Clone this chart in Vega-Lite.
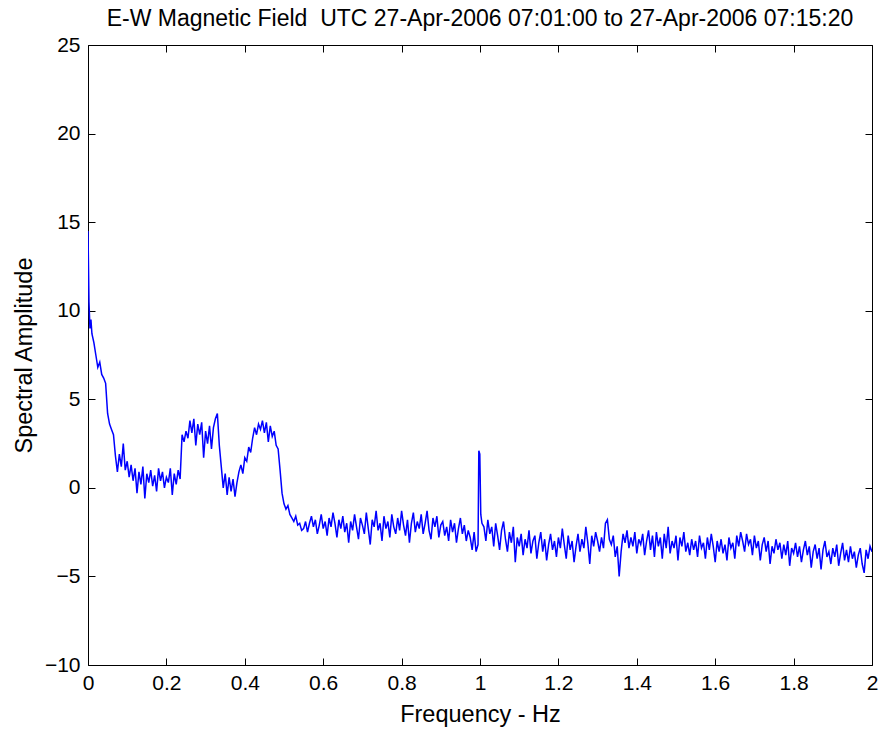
{
  "$schema": "https://vega.github.io/schema/vega-lite/v6.json",
  "autosize": "none",
  "width": 784,
  "height": 620,
  "padding": {"left": 88, "top": 45, "right": 8, "bottom": 69},
  "background": "white",
  "config": {
    "view": {"stroke": "black", "strokeWidth": 1},
    "font": "Liberation Sans",
    "axis": {"grid": false, "domain": false, "tickColor": "black", "labelColor": "black", "titleColor": "black", "labelFont": "Liberation Sans", "titleFont": "Liberation Sans", "labelFontSize": 21, "titleFontSize": 23.5, "titleFontWeight": "normal", "tickSize": -7, "labelPadding": 15}
  },
  "title": {"text": "E-W Magnetic Field\u00a0 UTC 27-Apr-2006 07:01:00 to 27-Apr-2006 07:15:20", "fontSize": 23, "fontWeight": "normal", "font": "Liberation Sans", "color": "black", "offset": 3, "anchor": "middle"},
  "data": {"values": [
{"f":0,"a":14.5},{"f":0.0025,"a":10.5},{"f":0.005,"a":9.0},{"f":0.0075,"a":9.5},{"f":0.01,"a":8.7},{"f":0.015,"a":8.2},{"f":0.02,"a":7.5},{"f":0.025,"a":6.8},{"f":0.03,"a":7.1},{"f":0.035,"a":6.4},{"f":0.04,"a":6.2},{"f":0.045,"a":5.9},{"f":0.05,"a":4.2},{"f":0.055,"a":3.6},{"f":0.06,"a":3.3},{"f":0.065,"a":3.0},{"f":0.07,"a":1.8},{"f":0.075,"a":0.9},{"f":0.08,"a":1.9},{"f":0.085,"a":1.2},{"f":0.09,"a":2.5},{"f":0.095,"a":1.0},{"f":0.1,"a":1.5},{"f":0.105,"a":0.6},{"f":0.11,"a":1.3},{"f":0.115,"a":0.4},{"f":0.12,"a":1.1},{"f":0.125,"a":-0.3},{"f":0.13,"a":0.9},{"f":0.135,"a":0.2},{"f":0.14,"a":1.2},{"f":0.145,"a":-0.6},{"f":0.15,"a":0.8},{"f":0.155,"a":0.3},{"f":0.16,"a":1.0},{"f":0.165,"a":0.1},{"f":0.17,"a":0.7},{"f":0.175,"a":-0.2},{"f":0.18,"a":1.1},{"f":0.185,"a":0.4},{"f":0.19,"a":0.9},{"f":0.195,"a":0.0},{"f":0.2,"a":0.6},{"f":0.205,"a":0.3},{"f":0.21,"a":1.1},{"f":0.215,"a":-0.4},{"f":0.22,"a":0.8},{"f":0.225,"a":0.2},{"f":0.23,"a":1.0},{"f":0.235,"a":0.5},{"f":0.24,"a":3.0},{"f":0.245,"a":2.6},{"f":0.25,"a":3.2},{"f":0.255,"a":2.8},{"f":0.26,"a":3.8},{"f":0.265,"a":3.1},{"f":0.27,"a":3.9},{"f":0.275,"a":2.4},{"f":0.28,"a":3.6},{"f":0.285,"a":3.0},{"f":0.29,"a":3.7},{"f":0.295,"a":1.7},{"f":0.3,"a":3.2},{"f":0.305,"a":2.5},{"f":0.31,"a":3.5},{"f":0.315,"a":2.2},{"f":0.32,"a":3.4},{"f":0.325,"a":3.9},{"f":0.33,"a":4.2},{"f":0.335,"a":2.4},{"f":0.34,"a":1.2},{"f":0.345,"a":0.0},{"f":0.35,"a":0.8},{"f":0.355,"a":-0.4},{"f":0.36,"a":0.6},{"f":0.365,"a":-0.2},{"f":0.37,"a":0.5},{"f":0.375,"a":-0.5},{"f":0.38,"a":0.3},{"f":0.385,"a":0.9},{"f":0.39,"a":1.3},{"f":0.395,"a":0.8},{"f":0.4,"a":1.7},{"f":0.405,"a":1.5},{"f":0.41,"a":2.3},{"f":0.415,"a":2.0},{"f":0.42,"a":2.8},{"f":0.425,"a":3.4},{"f":0.43,"a":3.0},{"f":0.435,"a":3.6},{"f":0.44,"a":3.3},{"f":0.445,"a":3.8},{"f":0.45,"a":3.1},{"f":0.455,"a":3.7},{"f":0.46,"a":2.6},{"f":0.465,"a":3.5},{"f":0.47,"a":2.9},{"f":0.475,"a":3.2},{"f":0.48,"a":2.4},{"f":0.485,"a":2.2},{"f":0.49,"a":1.0},{"f":0.495,"a":-0.3},{"f":0.5,"a":-0.9},{"f":0.505,"a":-1.2},{"f":0.51,"a":-1.0},{"f":0.515,"a":-1.5},{"f":0.52,"a":-1.7},{"f":0.525,"a":-1.9},{"f":0.53,"a":-1.6},{"f":0.535,"a":-2.1},{"f":0.54,"a":-2.0},{"f":0.545,"a":-2.4},{"f":0.55,"a":-2.3},{"f":0.555,"a":-1.9},{"f":0.56,"a":-2.5},{"f":0.565,"a":-2.0},{"f":0.57,"a":-1.6},{"f":0.575,"a":-2.2},{"f":0.58,"a":-1.8},{"f":0.585,"a":-2.6},
{"f":0.59,"a":-2.1},{"f":0.595,"a":-1.5},{"f":0.6,"a":-2.3},{"f":0.605,"a":-1.9},{"f":0.61,"a":-2.7},{"f":0.615,"a":-1.7},{"f":0.62,"a":-2.2},{"f":0.625,"a":-1.4},{"f":0.63,"a":-2.0},{"f":0.635,"a":-2.8},{"f":0.64,"a":-1.8},{"f":0.645,"a":-2.3},{"f":0.65,"a":-1.6},{"f":0.655,"a":-2.5},{"f":0.66,"a":-2.0},{"f":0.665,"a":-3.1},{"f":0.67,"a":-1.9},{"f":0.675,"a":-2.4},{"f":0.68,"a":-1.5},{"f":0.685,"a":-2.2},{"f":0.69,"a":-2.9},{"f":0.695,"a":-1.7},{"f":0.7,"a":-2.1},{"f":0.705,"a":-2.6},{"f":0.71,"a":-1.4},{"f":0.715,"a":-2.3},{"f":0.72,"a":-3.2},{"f":0.725,"a":-1.8},{"f":0.73,"a":-2.2},{"f":0.735,"a":-1.3},{"f":0.74,"a":-2.4},{"f":0.745,"a":-2.0},{"f":0.75,"a":-3.0},{"f":0.755,"a":-1.6},{"f":0.76,"a":-2.3},{"f":0.765,"a":-1.9},{"f":0.77,"a":-2.8},{"f":0.775,"a":-1.5},{"f":0.78,"a":-2.2},{"f":0.785,"a":-2.6},{"f":0.79,"a":-1.7},{"f":0.795,"a":-2.4},{"f":0.8,"a":-1.3},{"f":0.805,"a":-2.1},{"f":0.81,"a":-2.7},{"f":0.815,"a":-1.8},{"f":0.82,"a":-3.1},{"f":0.825,"a":-2.0},{"f":0.83,"a":-1.4},{"f":0.835,"a":-2.5},{"f":0.84,"a":-1.9},{"f":0.845,"a":-2.3},{"f":0.85,"a":-1.5},{"f":0.855,"a":-2.6},{"f":0.86,"a":-2.0},{"f":0.865,"a":-1.3},{"f":0.87,"a":-2.4},{"f":0.875,"a":-2.9},{"f":0.88,"a":-1.7},{"f":0.885,"a":-2.2},{"f":0.89,"a":-1.6},{"f":0.895,"a":-2.8},{"f":0.9,"a":-2.1},{"f":0.905,"a":-1.9},{"f":0.91,"a":-2.7},{"f":0.915,"a":-2.2},{"f":0.92,"a":-3.0},{"f":0.925,"a":-1.8},{"f":0.93,"a":-2.5},{"f":0.935,"a":-2.0},{"f":0.94,"a":-3.1},{"f":0.945,"a":-2.3},{"f":0.95,"a":-1.7},{"f":0.955,"a":-2.6},{"f":0.96,"a":-2.1},{"f":0.965,"a":-3.0},{"f":0.97,"a":-2.4},{"f":0.975,"a":-2.8},{"f":0.98,"a":-3.5},{"f":0.985,"a":-2.5},{"f":0.99,"a":-3.6},{"f":0.995,"a":-3.2},{"f":0.997,"a":2.1},{"f":0.9995,"a":1.9},{"f":1.002,"a":-1.5},{"f":1.005,"a":-2.0},
{"f":1.01,"a":-2.2},{"f":1.015,"a":-3.0},{"f":1.02,"a":-1.8},{"f":1.025,"a":-2.6},{"f":1.03,"a":-2.2},{"f":1.035,"a":-3.3},{"f":1.04,"a":-2.0},{"f":1.045,"a":-2.7},{"f":1.05,"a":-3.5},{"f":1.055,"a":-2.4},{"f":1.06,"a":-1.9},{"f":1.065,"a":-2.9},{"f":1.07,"a":-3.6},{"f":1.075,"a":-2.5},{"f":1.08,"a":-3.1},{"f":1.085,"a":-2.2},{"f":1.09,"a":-4.2},{"f":1.095,"a":-2.8},{"f":1.1,"a":-3.3},{"f":1.105,"a":-2.6},{"f":1.11,"a":-3.8},{"f":1.115,"a":-2.9},{"f":1.12,"a":-3.4},{"f":1.125,"a":-2.4},{"f":1.13,"a":-3.7},{"f":1.135,"a":-3.0},{"f":1.14,"a":-2.7},{"f":1.145,"a":-4.0},{"f":1.15,"a":-3.1},{"f":1.155,"a":-2.5},{"f":1.16,"a":-3.6},{"f":1.165,"a":-2.9},{"f":1.17,"a":-4.1},{"f":1.175,"a":-3.2},{"f":1.18,"a":-2.6},{"f":1.185,"a":-3.5},{"f":1.19,"a":-3.0},{"f":1.195,"a":-3.9},{"f":1.2,"a":-2.8},{"f":1.205,"a":-3.4},{"f":1.21,"a":-2.3},{"f":1.215,"a":-3.2},{"f":1.22,"a":-4.0},{"f":1.225,"a":-2.7},{"f":1.23,"a":-3.5},{"f":1.235,"a":-3.0},{"f":1.24,"a":-4.2},{"f":1.245,"a":-3.3},{"f":1.25,"a":-2.6},{"f":1.255,"a":-3.6},{"f":1.26,"a":-2.9},{"f":1.265,"a":-3.4},{"f":1.27,"a":-2.2},{"f":1.275,"a":-3.1},{"f":1.28,"a":-4.3},{"f":1.285,"a":-2.7},{"f":1.29,"a":-3.3},{"f":1.295,"a":-2.5},{"f":1.3,"a":-3.0},
{"f":1.305,"a":-3.6},{"f":1.31,"a":-2.8},{"f":1.315,"a":-3.4},{"f":1.32,"a":-2.0},{"f":1.325,"a":-1.8},{"f":1.33,"a":-2.9},{"f":1.335,"a":-3.2},{"f":1.34,"a":-2.7},{"f":1.345,"a":-3.9},{"f":1.35,"a":-3.3},{"f":1.355,"a":-5.0},{"f":1.36,"a":-3.6},{"f":1.365,"a":-2.6},{"f":1.37,"a":-3.1},{"f":1.375,"a":-2.4},{"f":1.38,"a":-3.4},{"f":1.385,"a":-2.8},{"f":1.39,"a":-3.3},{"f":1.395,"a":-2.5},{"f":1.4,"a":-3.7},{"f":1.405,"a":-2.9},{"f":1.41,"a":-3.2},{"f":1.415,"a":-2.6},{"f":1.42,"a":-3.8},{"f":1.425,"a":-3.0},{"f":1.43,"a":-2.4},{"f":1.435,"a":-3.5},{"f":1.44,"a":-2.7},{"f":1.445,"a":-3.9},{"f":1.45,"a":-2.5},{"f":1.455,"a":-3.3},{"f":1.46,"a":-2.8},{"f":1.465,"a":-4.0},{"f":1.47,"a":-2.6},{"f":1.475,"a":-3.4},{"f":1.48,"a":-2.2},{"f":1.485,"a":-3.7},{"f":1.49,"a":-3.0},{"f":1.495,"a":-3.4},{"f":1.5,"a":-2.7},{"f":1.505,"a":-4.1},{"f":1.51,"a":-2.8},{"f":1.515,"a":-3.3},{"f":1.52,"a":-2.5},{"f":1.525,"a":-3.6},{"f":1.53,"a":-3.1},{"f":1.535,"a":-3.8},{"f":1.54,"a":-2.9},{"f":1.545,"a":-3.5},{"f":1.55,"a":-3.0},{"f":1.555,"a":-3.9},{"f":1.56,"a":-2.7},{"f":1.565,"a":-3.4},{"f":1.57,"a":-3.1},{"f":1.575,"a":-4.0},{"f":1.58,"a":-2.8},{"f":1.585,"a":-3.5},{"f":1.59,"a":-2.6},{"f":1.595,"a":-3.3},{"f":1.6,"a":-4.2},{"f":1.605,"a":-3.0},{"f":1.61,"a":-3.6},{"f":1.615,"a":-2.9},{"f":1.62,"a":-3.7},{"f":1.625,"a":-3.2},{"f":1.63,"a":-4.1},{"f":1.635,"a":-2.8},{"f":1.64,"a":-3.4},{"f":1.645,"a":-3.1},{"f":1.65,"a":-4.0},{"f":1.655,"a":-2.7},{"f":1.66,"a":-3.3},{"f":1.665,"a":-2.5},{"f":1.67,"a":-3.0},{"f":1.675,"a":-3.6},{"f":1.68,"a":-2.6},{"f":1.685,"a":-3.2},{"f":1.69,"a":-2.9},{"f":1.695,"a":-3.8},{"f":1.7,"a":-2.7},{"f":1.705,"a":-3.4},{"f":1.71,"a":-3.0},{"f":1.715,"a":-4.1},{"f":1.72,"a":-3.2},{"f":1.725,"a":-2.8},{"f":1.73,"a":-3.6},{"f":1.735,"a":-3.0},{"f":1.74,"a":-4.3},{"f":1.745,"a":-3.3},{"f":1.75,"a":-3.7},{"f":1.755,"a":-2.9},{"f":1.76,"a":-3.5},{"f":1.765,"a":-3.1},{"f":1.77,"a":-4.0},{"f":1.775,"a":-3.2},{"f":1.78,"a":-3.8},{"f":1.785,"a":-3.0},{"f":1.79,"a":-4.4},{"f":1.795,"a":-3.4},{"f":1.8,"a":-3.7},{"f":1.805,"a":-3.1},{"f":1.81,"a":-3.9},{"f":1.815,"a":-3.3},{"f":1.82,"a":-4.2},{"f":1.825,"a":-3.5},{"f":1.83,"a":-3.0},{"f":1.835,"a":-3.8},{"f":1.84,"a":-3.3},{"f":1.845,"a":-4.5},{"f":1.85,"a":-3.6},{"f":1.855,"a":-3.2},{"f":1.86,"a":-4.0},{"f":1.865,"a":-3.4},{"f":1.87,"a":-4.6},{"f":1.875,"a":-3.5},{"f":1.88,"a":-3.0},{"f":1.885,"a":-3.9},{"f":1.89,"a":-3.6},{"f":1.895,"a":-4.3},{"f":1.9,"a":-3.4},{"f":1.905,"a":-3.9},{"f":1.91,"a":-3.2},{"f":1.915,"a":-4.4},{"f":1.92,"a":-3.7},{"f":1.925,"a":-3.1},{"f":1.93,"a":-4.1},{"f":1.935,"a":-3.5},{"f":1.94,"a":-4.2},{"f":1.945,"a":-3.3},{"f":1.95,"a":-4.0},{"f":1.955,"a":-3.6},{"f":1.96,"a":-4.5},{"f":1.965,"a":-3.8},{"f":1.97,"a":-3.4},{"f":1.975,"a":-4.3},{"f":1.98,"a":-4.8},{"f":1.985,"a":-3.5},{"f":1.99,"a":-4.0},{"f":1.995,"a":-3.3},{"f":2.0,"a":-3.6}
  ]},
  "layer": [
    {
      "mark": {"type": "line", "color": "#0000ff", "strokeWidth": 1.5, "clip": true},
      "encoding": {
        "x": {"field": "f", "type": "quantitative", "scale": {"domain": [0, 2], "nice": false, "zero": false}, "axis": {"title": "Frequency - Hz", "format": "~g", "values": [0, 0.2, 0.4, 0.6, 0.8, 1, 1.2, 1.4, 1.6, 1.8, 2], "labelFlush": false, "labelPadding": 14, "titlePadding": 9}},
        "y": {"field": "a", "type": "quantitative", "scale": {"domain": [-10, 25], "nice": false, "zero": false}, "axis": {"title": "Spectral Amplitude", "values": [-10, -5, 0, 5, 10, 15, 20, 25], "labelFlush": false, "labelPadding": 15, "titlePadding": 8}}
      }
    },
    {
      "mark": {"type": "line", "opacity": 0},
      "encoding": {
        "x": {"field": "f", "type": "quantitative", "axis": {"orient": "top", "labels": false, "title": null, "values": [0, 0.2, 0.4, 0.6, 0.8, 1, 1.2, 1.4, 1.6, 1.8, 2]}},
        "y": {"field": "a", "type": "quantitative", "axis": {"orient": "right", "labels": false, "title": null, "values": [-10, -5, 0, 5, 10, 15, 20, 25]}}
      }
    }
  ],
  "resolve": {"axis": {"x": "independent", "y": "independent"}}
}
